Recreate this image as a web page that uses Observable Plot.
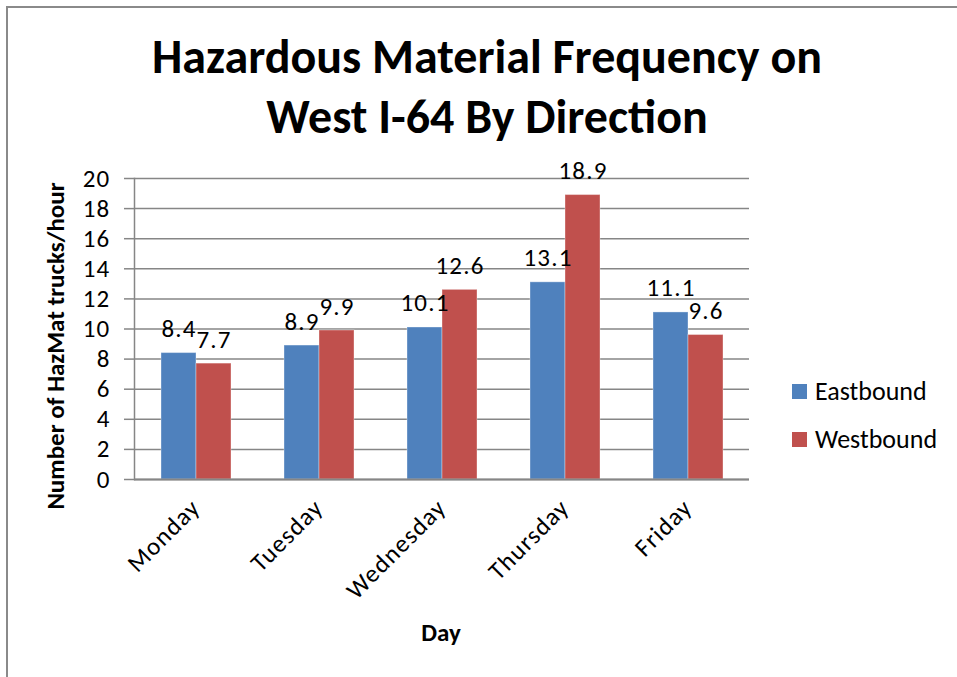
<!DOCTYPE html>
<html><head><meta charset="utf-8">
<script src="https://cdn.jsdelivr.net/npm/d3@7"></script>
<script src="https://cdn.jsdelivr.net/npm/@observablehq/plot@0.6"></script>
<style>
body{margin:0;background:#fff;font-family:Carlito,Lato,sans-serif;color:#000;}
#wrap{position:relative;width:957px;height:677px;overflow:hidden;background:#fff;}
#border{position:absolute;left:6px;top:6px;width:1000px;height:1000px;border-left:2px solid #8a8a8a;border-top:2px solid #8a8a8a;}
#title{position:absolute;left:0;width:974px;top:27px;text-align:center;font-weight:bold;font-size:48px;line-height:60px;}
#plot{position:absolute;left:0;top:0;}
#ylabel{position:absolute;left:-144px;top:331px;width:400px;height:30px;line-height:30px;text-align:center;font-weight:bold;font-size:25px;transform:rotate(-90deg);}
#xlabel{position:absolute;left:341px;width:200px;top:618px;line-height:30px;text-align:center;font-weight:bold;font-size:25px;}
#legend{position:absolute;left:792px;top:367px;font-size:26px;}
.item{display:flex;align-items:center;height:48px;}
.sw{width:15px;height:15px;margin-right:8px;}
svg text{letter-spacing:1.2px;}
</style></head>
<body>
<div id="wrap">
<div id="border"></div>
<div id="plot"></div>
<div id="title">Hazardous Material Frequency on<br>West I-64 By Direction</div>
<div id="ylabel">Number of HazMat trucks/hour</div>
<div id="xlabel">Day</div>
<div id="legend"></div>
</div>
<script>
const days = ["Monday", "Tuesday", "Wednesday", "Thursday", "Friday"];
const series = ["Eastbound", "Westbound"];
const eastbound = [8.4, 8.9, 10.1, 13.1, 11.1];
const westbound = [7.7, 9.9, 12.6, 18.9, 9.6];
const colors = ["#4F81BD", "#C0504D"];
const yTicks = [0, 2, 4, 6, 8, 10, 12, 14, 16, 18, 20];

const table = days.flatMap((d, i) => [
  {day: d, dir: series[0], value: eastbound[i]},
  {day: d, dir: series[1], value: westbound[i]}
]);

const grid = "#868686";
const chart = Plot.plot({
  width: 957, height: 677,
  marginLeft: 133, marginRight: 207, marginTop: 178, marginBottom: 198,
  style: {fontFamily: "Carlito, Lato, sans-serif", fontSize: "25px", color: "#000", background: "transparent"},
  fx: {domain: days, padding: 0, label: null},
  x: {domain: series, paddingInner: 0, paddingOuter: 0.738, axis: null},
  y: {domain: [0, 20], ticks: yTicks, label: null},
  color: {domain: series, range: colors},
  marks: [
    Plot.gridY(yTicks, {stroke: grid, strokeOpacity: 1, strokeWidth: 1.5}),
    Plot.barY(table, {fx: "day", x: "dir", y: "value", fill: "dir", stroke: "#ffffff", strokeOpacity: 0.35, strokeWidth: 1}),
    Plot.text(table, {fx: "day", x: "dir", y: "value", text: d => d.value.toFixed(1), lineAnchor: "bottom", dy: -16, fontSize: 25}),
    Plot.axisY(yTicks, {tickSize: 10, tickPadding: 14, stroke: grid, strokeWidth: 1.5, fontSize: 25, label: null}),
    Plot.axisFx({anchor: "bottom", tickRotate: -45, textAnchor: "end", tickSize: 0, tickPadding: 24, fontSize: 25, label: null}),
    Plot.ruleY([0], {stroke: grid, strokeWidth: 2}),
    Plot.frame({anchor: "left", facetAnchor: "left", stroke: grid, strokeWidth: 1.5})
  ]
});
document.getElementById("plot").appendChild(chart);

const legend = document.getElementById("legend");
series.forEach((s, i) => {
  const it = document.createElement("div");
  it.className = "item";
  it.innerHTML = `<span class="sw" style="background:${colors[i]}"></span><span>${s}</span>`;
  legend.appendChild(it);
});
</script>
</body></html>
